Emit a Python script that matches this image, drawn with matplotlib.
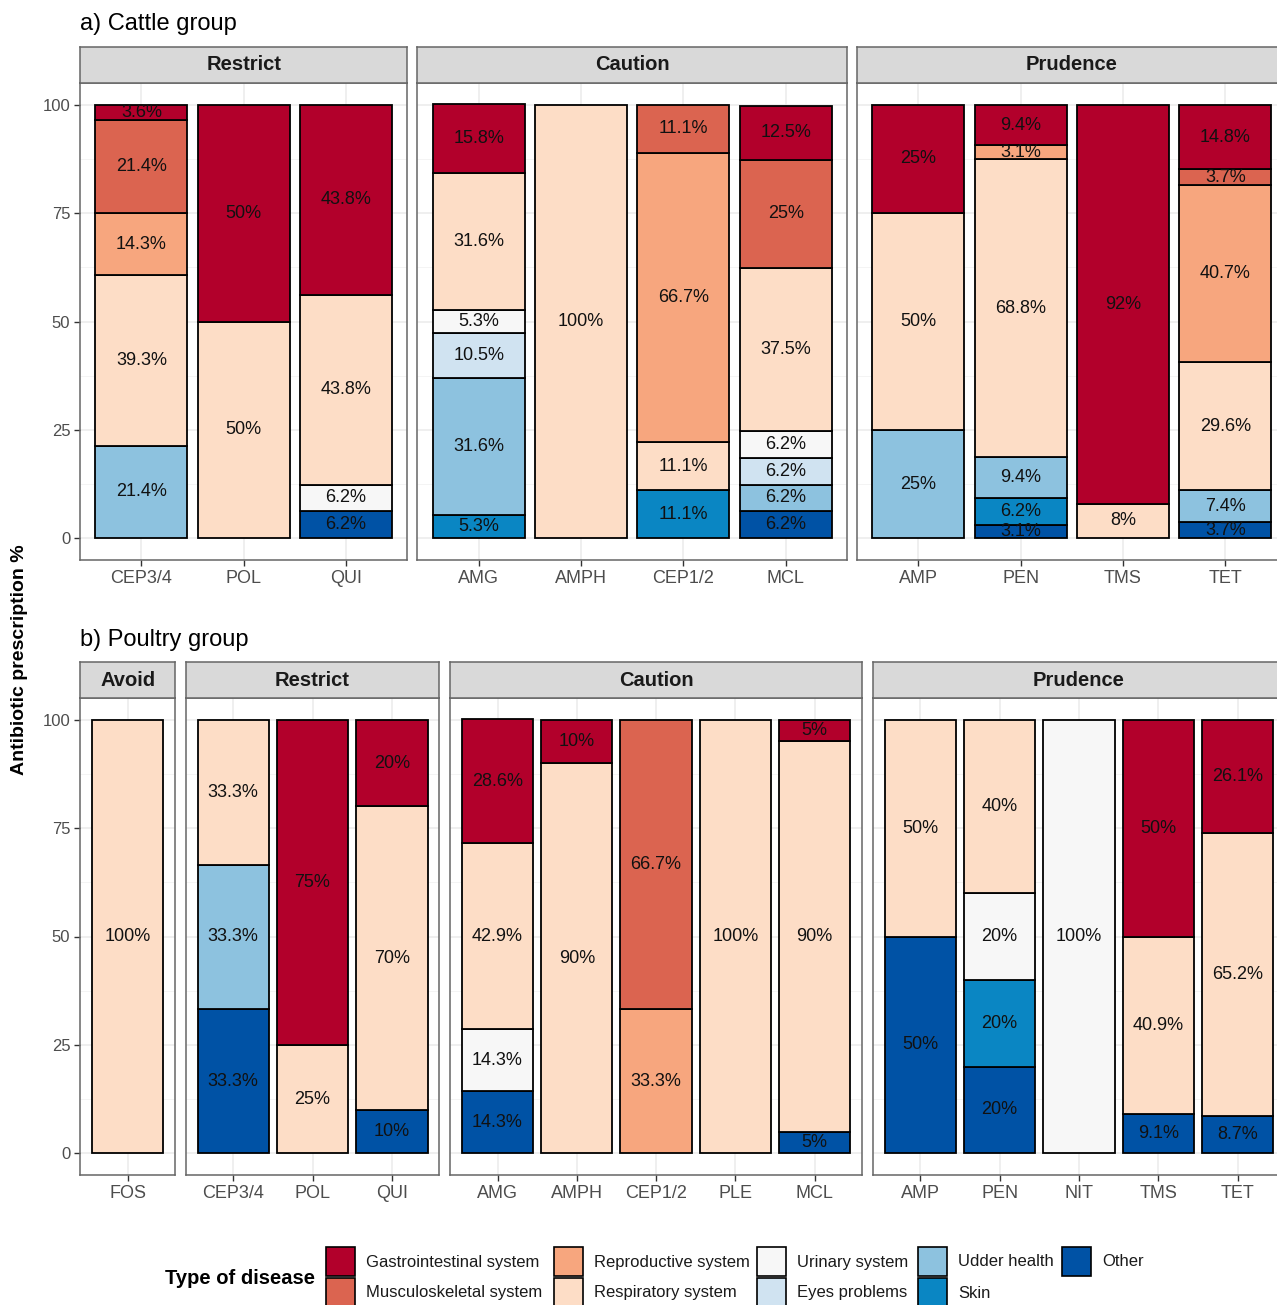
import matplotlib
matplotlib.use("Agg")
import matplotlib.pyplot as plt
from matplotlib.patches import Rectangle

plt.rcParams["font.family"] = ["Liberation Sans", "DejaVu Sans"]

# ---- categories -------------------------------------------------------
diseases = ["Gastrointestinal system", "Musculoskeletal system", "Reproductive system",
            "Respiratory system", "Urinary system", "Eyes problems",
            "Udder health", "Skin", "Other"]
disease_colors = ["#B2002B", "#DB6450", "#F7A67E", "#FDDDC6", "#F7F7F7",
                  "#D0E3F1", "#8DC2DF", "#0A86C3", "#0052A5"]

# ---- cattle group -----------------------------------------------------
cattle_drugs = ["CEP3/4", "POL", "QUI", "AMG", "AMPH", "CEP1/2", "MCL", "AMP", "PEN", "TMS", "TET"]
cattle_class = ["Restrict"] * 3 + ["Caution"] * 4 + ["Prudence"] * 4
cattle_gastro = [3.6, 50, 43.8, 15.8, 0, 0, 12.5, 25, 9.4, 92, 14.8]
cattle_musculo = [21.4, 0, 0, 0, 0, 11.1, 25, 0, 0, 0, 3.7]
cattle_repro = [14.3, 0, 0, 0, 0, 66.7, 0, 0, 3.1, 0, 40.7]
cattle_resp = [39.3, 50, 43.8, 31.6, 100, 11.1, 37.5, 50, 68.8, 8, 29.6]
cattle_urinary = [0, 0, 6.2, 5.3, 0, 0, 6.2, 0, 0, 0, 0]
cattle_eyes = [0, 0, 0, 10.5, 0, 0, 6.2, 0, 0, 0, 0]
cattle_udder = [21.4, 0, 0, 31.6, 0, 0, 6.2, 25, 9.4, 0, 7.4]
cattle_skin = [0, 0, 0, 5.3, 0, 11.1, 0, 0, 6.2, 0, 0]
cattle_other = [0, 0, 6.2, 0, 0, 0, 6.2, 0, 3.1, 0, 3.7]

# ---- poultry group ----------------------------------------------------
poultry_drugs = ["FOS", "CEP3/4", "POL", "QUI", "AMG", "AMPH", "CEP1/2", "PLE", "MCL",
                 "AMP", "PEN", "NIT", "TMS", "TET"]
poultry_class = ["Avoid"] + ["Restrict"] * 3 + ["Caution"] * 5 + ["Prudence"] * 5
poultry_gastro = [0, 0, 75, 20, 28.6, 10, 0, 0, 5, 0, 0, 0, 50, 26.1]
poultry_musculo = [0, 0, 0, 0, 0, 0, 66.7, 0, 0, 0, 0, 0, 0, 0]
poultry_repro = [0, 0, 0, 0, 0, 0, 33.3, 0, 0, 0, 0, 0, 0, 0]
poultry_resp = [100, 33.3, 25, 70, 42.9, 90, 0, 100, 90, 50, 40, 0, 40.9, 65.2]
poultry_urinary = [0, 0, 0, 0, 14.3, 0, 0, 0, 0, 0, 20, 100, 0, 0]
poultry_eyes = [0] * 14
poultry_udder = [0, 33.3, 0, 0, 0, 0, 0, 0, 0, 0, 0, 0, 0, 0]
poultry_skin = [0, 0, 0, 0, 0, 0, 0, 0, 0, 0, 20, 0, 0, 0]
poultry_other = [0, 33.3, 0, 10, 14.3, 0, 0, 0, 5, 50, 20, 0, 9.1, 8.7]

yticks = [0, 25, 50, 75, 100]

W, H = 1277, 1305
fig = plt.figure(figsize=(W / 100, H / 100), dpi=100)


def frect(x0, y0, x1, y1):
    """Pixel box (top-left origin) -> figure coordinates."""
    return [x0 / W, 1 - y1 / H, (x1 - x0) / W, (y1 - y0) / H]


def draw_row(drugs, classes, series, title, title_y, strip_y0, panel_y0, panel_y1,
             x_start, unit, gap):
    order = []
    for c in classes:
        if c not in order:
            order.append(c)
    fig.text(x_start / W, 1 - title_y / H, title, fontsize=17, va="center", ha="left")
    x = x_start
    first = True
    for cls in order:
        idx = [i for i, c in enumerate(classes) if c == cls]
        n = len(idx)
        width_px = (n + 0.2) * unit
        ax = fig.add_axes(frect(x, panel_y0, x + width_px, panel_y1))
        ax.set_xlim(0.4, n + 0.6)
        ax.set_ylim(-5, 105)
        ax.set_axisbelow(True)
        for yv in [12.5, 37.5, 62.5, 87.5]:
            ax.axhline(yv, color="#F2F2F2", lw=0.6, zorder=0)
        for yv in yticks:
            ax.axhline(yv, color="#EBEBEB", lw=1.1, zorder=0)
        for k in range(n):
            ax.axvline(k + 1, color="#EBEBEB", lw=1.1, zorder=0)
        # stacked bars: bottom-up from the last disease to the first
        for k, i in enumerate(idx):
            bottom = 0.0
            for d in reversed(range(len(diseases))):
                v = series[d][i]
                if v <= 0:
                    continue
                ax.bar(k + 1, v, bottom=bottom, width=0.9, color=disease_colors[d],
                       edgecolor="black", linewidth=1.3, zorder=2)
                ax.text(k + 1, bottom + v / 2, f"{v:g}%", ha="center", va="center",
                        fontsize=13, color="#111111", zorder=3)
                bottom += v
        ax.set_xticks(range(1, n + 1))
        ax.set_xticklabels([drugs[i] for i in idx], fontsize=13, color="#4D4D4D")
        ax.set_yticks(yticks)
        if first:
            ax.set_yticklabels([str(t) for t in yticks], fontsize=12, color="#4D4D4D")
        else:
            ax.tick_params(axis="y", left=False, labelleft=False)
        ax.tick_params(axis="both", length=4, width=1, color="#333333", pad=3)
        for sp in ax.spines.values():
            sp.set_color("#666666")
            sp.set_linewidth(1.1)
        # facet strip
        sax = fig.add_axes(frect(x, strip_y0, x + width_px, panel_y0))
        sax.set_xticks([])
        sax.set_yticks([])
        sax.set_facecolor("#D9D9D9")
        for sp in sax.spines.values():
            sp.set_color("#666666")
            sp.set_linewidth(1.1)
        sax.text(0.5, 0.5, cls, transform=sax.transAxes, ha="center", va="center",
                 fontsize=14.5, fontweight="bold", color="#1A1A1A")
        x += width_px + gap
        first = False


cattle_series = [cattle_gastro, cattle_musculo, cattle_repro, cattle_resp, cattle_urinary,
                 cattle_eyes, cattle_udder, cattle_skin, cattle_other]
poultry_series = [poultry_gastro, poultry_musculo, poultry_repro, poultry_resp, poultry_urinary,
                  poultry_eyes, poultry_udder, poultry_skin, poultry_other]

draw_row(cattle_drugs, cattle_class, cattle_series, "a) Cattle group", 24,
         47, 83, 560, 80, 102.3, 10)
draw_row(poultry_drugs, poultry_class, poultry_series, "b) Poultry group", 640,
         662, 698, 1175, 80, 79.3, 10.5)

fig.text(20 / W, 1 - 660 / H, "Antibiotic prescription %", rotation=90, fontsize=14,
         fontweight="bold", ha="center", va="center")

# ---- legend -----------------------------------------------------------
fig.text(165 / W, 1 - 1278 / H, "Type of disease", fontsize=14.5, fontweight="bold",
         ha="left", va="center")
key_x = [326, 554, 757, 918, 1062]
key_y = [1247, 1278]
for d, (name, col) in enumerate(zip(diseases, disease_colors)):
    c, r = divmod(d, 2)
    kx, ky = key_x[c], key_y[r]
    fig.patches.append(Rectangle((kx / W, 1 - (ky + 29) / H), 29 / W, 29 / H,
                                 transform=fig.transFigure, facecolor=col,
                                 edgecolor="black", linewidth=1.2))
    fig.text((kx + 40) / W, 1 - (ky + 15) / H, name, fontsize=12, ha="left",
             va="center", color="#1A1A1A")

fig.savefig("out.png", dpi=100, facecolor="white")
